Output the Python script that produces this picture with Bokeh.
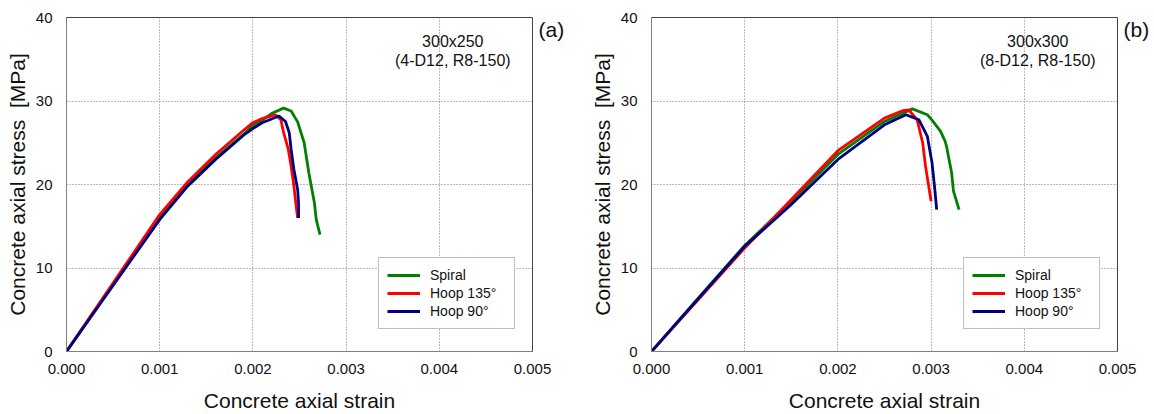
from bokeh.plotting import figure
from bokeh.models import (Legend, LegendItem, Label, FixedTicker, NumeralTickFormatter, Range1d,
                          LinearAxis, CustomJSTickFormatter, Spacer)
from bokeh.layouts import row
from bokeh.embed import file_html
from bokeh.resources import INLINE

# ---------------- data ----------------
# Panel (a) 300x250
a_spiral_x = [0, 0.0005, 0.001, 0.0013, 0.0016, 0.0019, 0.002, 0.0021, 0.0022, 0.00233, 0.00241, 0.00248, 0.00255, 0.0026, 0.00266, 0.00268, 0.00272]
a_spiral_y = [0, 8.1, 16.1, 20.0, 23.2, 26.0, 27.1, 27.7, 28.5, 29.15, 28.8, 27.5, 25.0, 21.4, 17.8, 15.8, 14.0]
a_h135_x = [0, 0.0005, 0.001, 0.0013, 0.0016, 0.0019, 0.002, 0.0021, 0.00224, 0.0023, 0.00233, 0.00238, 0.00241, 0.00244, 0.00246, 0.00248]
a_h135_y = [0, 8.2, 16.4, 20.3, 23.6, 26.5, 27.4, 27.9, 28.35, 27.75, 26.2, 24.2, 22.2, 19.8, 17.8, 16.0]
a_h90_x = [0, 0.0005, 0.001, 0.0013, 0.0016, 0.0019, 0.002, 0.0021, 0.00228, 0.00235, 0.00239, 0.00241, 0.00244, 0.00248, 0.00249, 0.00249]
a_h90_y = [0, 7.9, 15.8, 19.8, 23.0, 25.9, 26.7, 27.4, 28.2, 27.55, 26.2, 24.2, 21.8, 19.4, 17.8, 16.0]

# Panel (b) 300x300
b_spiral_x = [0, 0.0005, 0.001, 0.0015, 0.002, 0.0025, 0.0028, 0.00296, 0.00301, 0.0031, 0.00315, 0.003165, 0.00322, 0.00324, 0.0033]
b_spiral_y = [0, 6.4, 12.7, 18.0, 23.6, 27.55, 29.06, 28.35, 27.7, 26.4, 25.2, 24.6, 21.4, 19.2, 17.0]
b_h135_x = [0, 0.0005, 0.001, 0.0015, 0.002, 0.0025, 0.0027, 0.00276, 0.00285, 0.00291, 0.00294, 0.00298, 0.0030]
b_h135_y = [0, 6.2, 12.4, 18.2, 24.05, 27.95, 28.86, 28.95, 27.75, 24.97, 22.2, 19.4, 18.0]
b_h90_x = [0, 0.0005, 0.001, 0.0015, 0.002, 0.0025, 0.00273, 0.00287, 0.00296, 0.00301, 0.00304, 0.00306]
b_h90_y = [0, 6.3, 12.6, 17.6, 23.0, 27.15, 28.35, 27.75, 25.76, 22.6, 19.4, 17.0]

series_names = ["Spiral", "Hoop 135\u00b0", "Hoop 90\u00b0"]
series_colors = ["#008000", "#ff0000", "#000080"]
x_ticks = [0.0, 0.001, 0.002, 0.003, 0.004, 0.005]
y_ticks = [0, 10, 20, 30, 40]
panel_tags = ["(a)", "(b)"]
panel_notes = [["300x250", "(4-D12, R8-150)"], ["300x300", "(8-D12, R8-150)"]]

FONT = "Liberation Sans"


def make_panel(xs, ys, tag, notes, width, border_left, border_right):
    p = figure(width=width, height=414, output_backend="svg", toolbar_location=None,
               x_range=Range1d(0, 0.005), y_range=Range1d(0, 40),
               min_border_left=border_left, min_border_right=border_right,
               min_border_top=17, min_border_bottom=62)
    p.background_fill_color = "white"
    p.border_fill_color = "white"
    p.outline_line_color = "#444444"
    p.outline_line_width = 1

    for ax in (p.xaxis[0], p.yaxis[0]):
        ax.axis_line_color = "#808080"
        ax.major_tick_line_color = None
        ax.minor_tick_line_color = None
        ax.major_label_text_font = FONT
        ax.major_label_text_font_size = "15px"
        ax.major_label_text_color = "#111111"
        ax.axis_label_text_font = FONT
        ax.axis_label_text_font_size = "21px"
        ax.axis_label_text_font_style = "normal"
        ax.axis_label_text_color = "#111111"

    p.xaxis.ticker = FixedTicker(ticks=x_ticks)
    p.xaxis.formatter = NumeralTickFormatter(format="0.000")
    p.yaxis.ticker = FixedTicker(ticks=y_ticks)
    p.xaxis.axis_label = "Concrete axial strain"
    p.yaxis.axis_label = "Concrete axial stress \u00a0[MPa]"
    p.xaxis.major_label_standoff = 6
    p.xaxis.axis_label_standoff = 12
    p.yaxis.major_label_standoff = 8
    p.yaxis.axis_label_standoff = 4

    p.xgrid.ticker = FixedTicker(ticks=x_ticks)
    p.ygrid.ticker = FixedTicker(ticks=y_ticks)
    for g in (p.xgrid[0], p.ygrid[0]):
        g.grid_line_color = "#777777"
        g.grid_line_dash = "1 2"
        g.grid_line_width = 1

    items = []
    for x, y, name, col in zip(xs, ys, series_names, series_colors):
        r = p.line(x, y, line_color=col, line_width=2.8)
        items.append(LegendItem(label=name, renderers=[r]))

    leg = Legend(items=items, location=(312, 22))
    leg.border_line_color = "#808080"
    leg.border_line_width = 1
    leg.background_fill_color = "white"
    leg.background_fill_alpha = 1
    leg.label_text_font = FONT
    leg.label_text_font_size = "14px"
    leg.label_text_color = "#111111"
    leg.glyph_width = 33
    leg.glyph_height = 18
    leg.label_height = 18
    leg.label_width = 76
    leg.spacing = 0
    leg.padding = 8
    leg.margin = 0
    leg.label_standoff = 10
    p.add_layout(leg, "center")

    # panel tag "(a)"/"(b)" drawn as the single label of a bare right-hand axis
    tag_axis = LinearAxis(ticker=FixedTicker(ticks=[38.6], minor_ticks=[]),
                          formatter=CustomJSTickFormatter(args=dict(t=tag), code="return t;"))
    tag_axis.axis_line_color = None
    tag_axis.major_tick_line_color = None
    tag_axis.minor_tick_line_color = None
    tag_axis.major_label_standoff = 0
    tag_axis.major_label_text_font = FONT
    tag_axis.major_label_text_font_size = "21px"
    tag_axis.major_label_text_color = "#111111"
    p.add_layout(tag_axis, "right")

    p.add_layout(Label(x=0.004145, y=37.1, text=notes[0], text_align="center", text_baseline="middle",
                       text_font=FONT, text_font_size="16px", text_color="#111111"))
    p.add_layout(Label(x=0.004145, y=34.8, text=notes[1], text_align="center", text_baseline="middle",
                       text_font=FONT, text_font_size="16px", text_color="#111111"))
    return p


pa = make_panel([a_spiral_x, a_h135_x, a_h90_x], [a_spiral_y, a_h135_y, a_h90_y],
                panel_tags[0], panel_notes[0], width=569, border_left=66, border_right=37)
pb = make_panel([b_spiral_x, b_h135_x, b_h90_x], [b_spiral_y, b_h135_y, b_h90_y],
                panel_tags[1], panel_notes[1], width=573, border_left=70, border_right=37)

layout = row(pa, Spacer(width=12, height=414), pb, spacing=0)
open("out.html", "w").write(file_html(layout, INLINE))
